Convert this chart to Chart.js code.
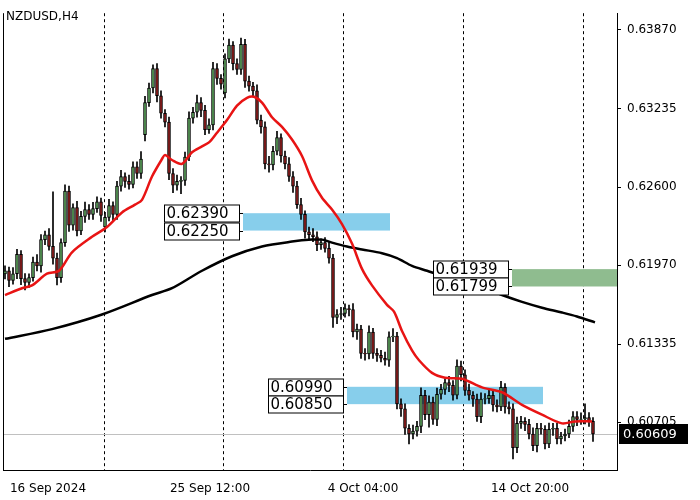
<!DOCTYPE html>
<html><head><meta charset="utf-8">
<script src="https://cdn.jsdelivr.net/npm/chart.js@4"></script>
<style>html,body{margin:0;padding:0;background:#fff}#w{width:700px;height:500px}</style>
</head><body><div id="w"><canvas id="c" width="700" height="500"></canvas></div>
<script>
const symbolTitle = "NZDUSD,H4";
const closes = [.61926,.61847,.61902,.62059,.61863,.61832,.61871,.61996,.61965,.62177,
.62216,.62122,.62028,.61871,.62153,.62569,.62294,.62435,.62247,.62365,
.62420,.62380,.62427,.62482,.62373,.62357,.62451,.62380,.62608,.62686,
.62647,.62623,.62765,.62710,.62827,.63282,.63400,.63556,.63337,.63196,
.63125,.62710,.62616,.62647,.62655,.62843,.63157,.63204,.63282,.63219,
.63063,.63102,.63556,.63478,.63431,.63635,.63745,.63596,.63549,.63752,
.63455,.63415,.63376,.63141,.63086,.62788,.62780,.62890,.63000,.62851,
.62788,.62686,.62608,.62459,.62380,.62239,.62216,.62200,.62137,.62153,
.62106,.62028,.61549,.61573,.61581,.61620,.61612,.61432,.61455,.61259,
.61255,.61432,.61259,.61244,.61220,.61204,.61393,.61400,.60852,.60812,
.60656,.60609,.60632,.60671,.60922,.60765,.60867,.60726,.60930,.60969,
.61024,.61001,.60922,.61157,.61087,.60961,.60922,.60891,.60750,.60891,
.60895,.60922,.60844,.60828,.60985,.60828,.60812,.60499,.60695,.60711,
.60687,.60609,.60515,.60656,.60648,.60530,.60648,.60656,.60569,.60593,
.60609,.60671,.60750,.60726,.60730,.60742,.60711,.60609];
const opens = [.61900,.61926,.61847,.61902,.62059,.61863,.61832,.61871,.61996,.61965,
.62177,.62216,.62122,.62028,.61871,.62153,.62569,.62294,.62435,.62247,
.62365,.62420,.62380,.62427,.62482,.62279,.62357,.62451,.62380,.62608,
.62686,.62647,.62623,.62765,.62710,.63023,.63282,.63400,.63556,.63337,
.63196,.63125,.62710,.62616,.62647,.62655,.62843,.63157,.63204,.63282,
.63219,.63063,.63102,.63556,.63478,.63360,.63635,.63745,.63596,.63549,
.63752,.63455,.63415,.63376,.63141,.63086,.62788,.62780,.62890,.63000,
.62851,.62788,.62686,.62608,.62459,.62380,.62239,.62216,.62200,.62137,
.62153,.62106,.62028,.61549,.61573,.61581,.61620,.61612,.61432,.61455,
.61259,.61255,.61432,.61259,.61244,.61220,.61204,.61393,.61400,.60852,
.60812,.60656,.60609,.60632,.60671,.60922,.60765,.60867,.60726,.60930,
.60969,.61024,.61001,.60922,.61157,.61087,.60961,.60922,.60891,.60750,
.60891,.60895,.60922,.60844,.60828,.60985,.60828,.60812,.60499,.60695,
.60711,.60687,.60609,.60515,.60656,.60648,.60530,.60648,.60656,.60569,
.60593,.60609,.60671,.60750,.60726,.60730,.60742,.60711];
const wickUpPips = [4,3,5,4,3,4,3,4,6,4, 3,5,44,4,3,5,4,3,5,4, 6,4,5,4,3,4,5,3,4,5,
3,5,4,4,6,5,4,3,4,4, 3,4,4,5,3,4,5,4,6,4, 4,5,5,4,3,4,5,3,4,5, 4,4,3,5,4,4,6,4,5,3,
4,5,4,4,5,3,4,5,4,3, 4,5,3,4,5,4,3,5,4,3, 4,5,3,4,4,5,4,6,3,4, 4,3,5,4,6,4,5,4,5,4,
3,5,4,5,4,4,5,3,4,5, 4,5,4,4,5,3,4,4,5,4, 3,4,5,4,4,3,5,4,4,3, 4,5,4,4,5,11,4,3];
const wickDnPips = [4,5,3,4,5,6,4,3,4,5, 4,3,5,6,4,3,5,4,4,3, 5,4,4,3,5,4,3,5,4,4,
5,4,3,4,4,5,3,4,5,4, 4,5,6,4,10,4,3,4,4,5, 4,3,4,5,4,4,3,5,4,4, 5,4,4,3,5,4,6,4,3,5,
4,4,5,3,4,5,4,4,5,4, 3,4,8,5,4,3,5,4,6,4, 5,4,4,5,3,4,5,4,4,6, 5,8,4,4,5,4,10,4,5,4,
4,5,4,3,5,4,4,6,4,5, 4,4,5,4,3,5,4,9,4,4, 5,4,4,5,4,4,3,5,4,4, 4,3,4,5,4,4,4,6];
const redMaIdx = [0,4.25,6.75,10.5,13.5,16.75,21.75,25.5,29.25,32.5,34.25,36.75,39.25,40,41.75,44.25,46.75,49.25,51,53,55.5,58,60.5,62.25,64.25,66.75,69.25,71.75,74.25,76.75,79.25,81.75,84.25,86.75,89.25,91.75,95.5,97.25,99.25,101.75,103.5,106.75,110,114.25,119.25,124.25,129.25,134.25,139.25,142.5,146.75];
const redMa = [.61730,.61785,.61808,.61902,.61926,.62075,.62200,.62279,.62396,.62459,.62498,.62686,.62827,.62859,.62819,.62788,.62882,.62929,.62961,.63039,.63141,.63258,.63321,.63329,.63282,.63164,.63086,.62984,.62851,.62655,.62514,.62420,.62302,.62145,.61941,.61808,.61651,.61596,.61440,.61283,.61204,.61102,.61063,.61055,.60985,.60946,.60844,.60765,.60695,.60711,.60711];
const blackMaIdx = [0,11.75,24.25,36.75,41.75,49.25,56.75,64.25,71.75,76.75,79.25,81.75,85.5,89.25,94.25,98,101.75,105.5,109.25,114.25,119.25,124.25,129.25,134.25,139.25,143,147.5];
const blackMa = [.61377,.61455,.61573,.61730,.61785,.61926,.62043,.62122,.62161,.62177,.62177,.62153,.62122,.62098,.62067,.62028,.61965,.61926,.61886,.61847,.61792,.61730,.61675,.61628,.61589,.61557,.61510];
const yTicks = [0.63870,0.63235,0.62600,0.61970,0.61335,0.60705];
const xTickIdx = [10.75,51.25,89.5,131.25];
const xTickLabels = ["16 Sep 2024","25 Sep 12:00","4 Oct 04:00","14 Oct 20:00"];
const gridIdx = [24.75,54.5,84.5,114.5,144.5];
const zoneTop = [0.62390,0.60990,0.61939];
const zoneBot = [0.62250,0.60850,0.61799];
const zoneFrom = [59.5,85.5,126.75];
const zoneTo = [96.25,134.5,153];
const zoneColor = ["#87ceeb","#87ceeb","#8fbc8f"];
const lastPrice = 0.60609;

const n = closes.length;
const bodies = [], wicks = [], bodyColors = [];
for (let i=0;i<n;i++){
  let o=opens[i], c=closes[i];
  let hi=Math.max(o,c)+wickUpPips[i]*0.0001, lo=Math.min(o,c)-wickDnPips[i]*0.0001;
  if (Math.abs(o-c)<0.00002) c=o+0.00002;
  bodies.push({x:i,y:[o,c]});
  wicks.push({x:i,y:[lo,hi]});
  bodyColors.push(closes[i]>=opens[i]?"#5a9e5a":"#8b1c1c");
}
const FONT="DejaVu Sans";
const overlay={
  id:'overlay',
  beforeDatasetsDraw(ch){
    const {ctx,chartArea:a,scales:{x,y}}=ch;
    ctx.save();
    ctx.strokeStyle="#000";ctx.lineWidth=1;ctx.setLineDash([3,3]);
    gridIdx.forEach(g=>{const px=Math.round(x.getPixelForValue(g))+0.5;ctx.beginPath();ctx.moveTo(px,a.top);ctx.lineTo(px,a.bottom);ctx.stroke();});
    ctx.setLineDash([]);
    const ly=Math.round(y.getPixelForValue(lastPrice))+0.5;
    ctx.strokeStyle="#c0c0c0";ctx.beginPath();ctx.moveTo(a.left,ly);ctx.lineTo(a.right,ly);ctx.stroke();
    for(let k=0;k<zoneTop.length;k++){
      const x1=x.getPixelForValue(zoneFrom[k]),x2=Math.min(a.right,x.getPixelForValue(zoneTo[k]));
      const y1=y.getPixelForValue(zoneTop[k]),y2=y.getPixelForValue(zoneBot[k]);
      ctx.fillStyle=zoneColor[k];ctx.fillRect(x1,y1,x2-x1,y2-y1);
    }
    ctx.restore();
  },
  afterDatasetsDraw(ch){
    const {ctx,chartArea:a,scales:{x,y}}=ch;
    ctx.save();
    ctx.font="15px "+FONT;ctx.textBaseline="middle";
    for(let k=0;k<zoneTop.length;k++){
      const x1=x.getPixelForValue(zoneFrom[k]);
      [zoneTop[k],zoneBot[k]].forEach(v=>{
        const py=Math.round(y.getPixelForValue(v))+0.5;
        const bx=Math.round(x1)-78.5, bw=75;
        ctx.strokeStyle="#000";ctx.lineWidth=1;
        ctx.beginPath();ctx.moveTo(bx+bw,py);ctx.lineTo(x1,py);ctx.stroke();
        ctx.fillStyle="#fff";ctx.fillRect(bx,py-8.5,bw,17);
        ctx.strokeRect(bx,py-8.5,bw,17);
        ctx.fillStyle="#000";ctx.fillText(v.toFixed(5),bx+2,py+1);
      });
    }
    ctx.strokeStyle="#000";ctx.lineWidth=1;
    ctx.beginPath();ctx.moveTo(a.left+0.5,a.top);ctx.lineTo(a.left+0.5,a.bottom);ctx.stroke();
    ctx.font="12px "+FONT;ctx.fillStyle="#000";ctx.textBaseline="alphabetic";
    ctx.fillText(symbolTitle,6,20);
    const ly=Math.round(y.getPixelForValue(lastPrice));
    ctx.fillStyle="#000";ctx.fillRect(a.right+2,ly-10,69,20);
    ctx.fillStyle="#fff";ctx.font="13px "+FONT;ctx.textBaseline="middle";
    ctx.fillText(lastPrice.toFixed(5),a.right+6,ly+1);
    ctx.restore();
  }
};
new Chart(document.getElementById('c'),{
  data:{datasets:[
    {type:'line',data:redMaIdx.map((v,i)=>({x:v,y:redMa[i]})),borderColor:"#e81414",borderWidth:2.5,pointRadius:0,tension:0.3,order:1},
    {type:'line',data:blackMaIdx.map((v,i)=>({x:v,y:blackMa[i]})),borderColor:"#000",borderWidth:2.5,pointRadius:0,tension:0.3,order:1},
    {type:'bar',data:bodies,backgroundColor:bodyColors,borderColor:"#000",borderWidth:1,borderSkipped:false,barThickness:3,grouped:false,order:2},
    {type:'bar',data:wicks,backgroundColor:"#000",borderWidth:0,barThickness:1,grouped:false,order:3}
  ]},
  options:{
    responsive:false,animation:false,devicePixelRatio:1,
    layout:{padding:{left:3,top:0,right:0,bottom:0}},
    plugins:{legend:{display:false},tooltip:{enabled:false}},
    scales:{
      x:{type:'linear',min:-0.5,max:153,offset:false,
        afterFit(s){s.height=30;},
        afterBuildTicks(s){s.ticks=xTickIdx.map(v=>({value:v}));},
        ticks:{autoSkip:false,maxRotation:0,color:"#000",font:{family:FONT,size:12},padding:4,
          callback:(v)=>{const k=xTickIdx.indexOf(v);return k>=0?xTickLabels[k]:"";}},
        grid:{display:false},border:{display:true,color:"#000"}},
      y:{type:'linear',position:'right',min:0.60319,max:0.64003,
        afterFit(s){s.width=83;},
        afterBuildTicks(s){s.ticks=yTicks.map(v=>({value:v}));},
        ticks:{color:"#000",font:{family:FONT,size:12},padding:6,callback:v=>v.toFixed(5)},
        grid:{drawOnChartArea:false,drawTicks:true,tickLength:4,color:"#000"},border:{display:true,color:"#000"}}
    }
  },
  plugins:[overlay]
});
</script></body></html>
